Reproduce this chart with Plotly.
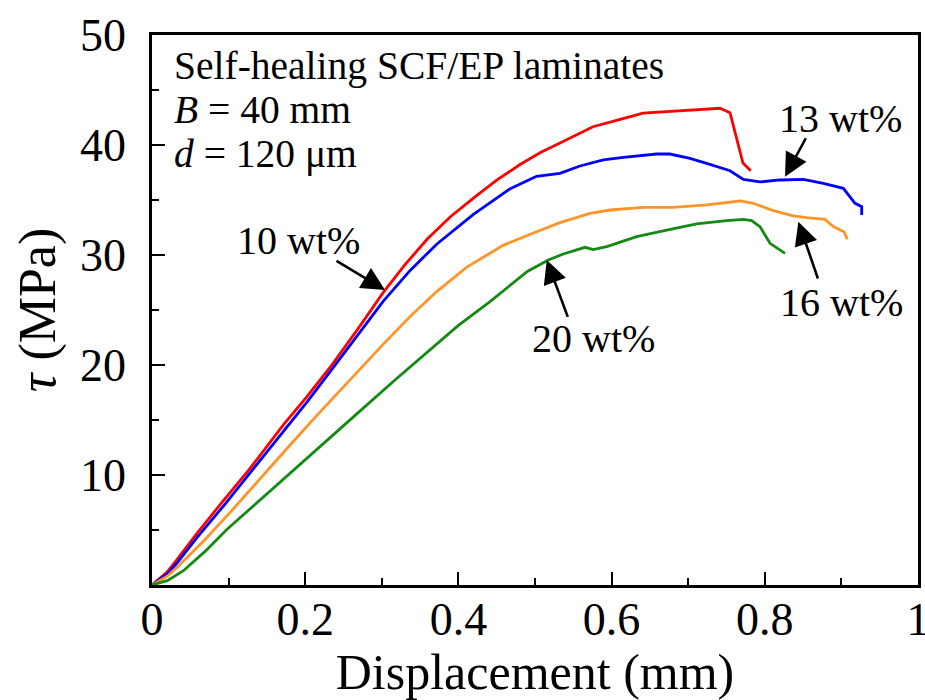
import plotly.graph_objects as go

# ---- data ----
x_10 = [0, 0.02, 0.0326, 0.0587, 0.0935, 0.128, 0.172, 0.202, 0.2326, 0.267, 0.302, 0.33, 0.36,
        0.39, 0.42, 0.45, 0.48, 0.5065, 0.5326, 0.5757, 0.61, 0.641, 0.672, 0.7415,
        0.7546, 0.7715, 0.7816]
y_10 = [0, 1.2, 2.3, 4.7, 7.7, 10.6, 14.6, 17.1, 19.8, 23.1, 26.6, 29.1, 31.5,
        33.5, 35.2, 36.8, 38.2, 39.3, 40.18, 41.66, 42.3, 42.9, 43.03, 43.34,
        42.94, 38.36, 37.66]

x_13 = [0, 0.02, 0.0326, 0.0587, 0.0935, 0.128, 0.172, 0.202, 0.2326, 0.267, 0.302, 0.337, 0.372,
        0.4196, 0.467, 0.502, 0.5326, 0.5587, 0.5892, 0.6153, 0.6588, 0.676, 0.7023, 0.7241,
        0.7546, 0.772, 0.7937, 0.8198, 0.8503, 0.8764, 0.9025, 0.9178, 0.9265, 0.9265]
y_13 = [0, 1.0, 2.0, 4.3, 7.2, 10.2, 14.1, 16.6, 19.4, 22.6, 25.8, 28.6, 31.0,
        33.7, 36.0, 37.15, 37.43, 38.09, 38.64, 38.88, 39.18, 39.18, 38.79, 38.33,
        37.66, 36.88, 36.64, 36.82, 36.88, 36.52, 36.06, 34.7, 34.39, 33.64]

x_16 = [0, 0.02, 0.0326, 0.0674, 0.102, 0.141, 0.180, 0.215, 0.259, 0.302, 0.337, 0.372, 0.411,
        0.459, 0.498, 0.5326, 0.5718, 0.5979, 0.6414, 0.6806, 0.7241, 0.7676, 0.785, 0.8111,
        0.8372, 0.8546, 0.8786, 0.8895, 0.9034, 0.9077]
y_16 = [0, 0.8, 1.6, 4.0, 6.6, 9.6, 12.7, 15.4, 18.7, 21.9, 24.4, 26.7, 28.9,
        30.9, 32.0, 32.94, 33.79, 34.09, 34.33, 34.33, 34.55, 34.91, 34.7, 34.03,
        33.55, 33.39, 33.24, 32.58, 32.12, 31.42]

x_20 = [0, 0.02, 0.041, 0.07, 0.097, 0.137, 0.178, 0.22, 0.26, 0.3172, 0.36, 0.4, 0.44,
        0.4674, 0.49, 0.5174, 0.537, 0.5653, 0.576, 0.5936, 0.6197, 0.6327, 0.672, 0.711,
        0.7502, 0.772, 0.7828, 0.7937, 0.8068, 0.8264]
y_20 = [0, 0.4, 1.3, 3.1, 5.0, 7.5, 10.0, 12.6, 15.1, 18.64, 21.2, 23.6, 25.7,
        27.27, 28.5, 29.55, 30.09, 30.7, 30.5, 30.76, 31.36, 31.67, 32.27, 32.82,
        33.12, 33.24, 33.12, 32.58, 31.06, 30.15]

series_names = ["10 wt%", "13 wt%", "16 wt%", "20 wt%"]
series_colors = ["#ff0000", "#0000ff", "#ff9428", "#138a13"]

# label positions (data coords) and arrow tail/tip
label_xy = [(0.191, 31.3), (0.8985, 42.4), (0.9, 25.7), (0.576, 22.4)]
arrow_tail = [(0.2389, 29.55), (0.8546, 40.75), (0.87, 27.73), (0.5435, 24.24)]
arrow_tip = [(0.3042, 26.82), (0.8264, 37.12), (0.8438, 33.03), (0.5153, 29.55)]

info_lines = ["Self-healing SCF/EP laminates", "<i>B</i> = 40 mm", "<i>d</i> = 120 μm"]
info_y = [47.2, 43.2, 39.2]

x_ticks = [0, 0.2, 0.4, 0.6, 0.8, 1]
y_ticks = [10, 20, 30, 40, 50]

FONT = "Liberation Serif, Times New Roman, serif"

fig = go.Figure()
for xs, ys, name, col in zip([x_10, x_13, x_16, x_20], [y_10, y_13, y_16, y_20],
                             series_names, series_colors):
    fig.add_trace(go.Scatter(x=xs, y=ys, mode="lines", name=name,
                             line=dict(color=col, width=2.8), showlegend=False))

annotations = []
for (lx, ly), name in zip(label_xy, series_names):
    annotations.append(dict(x=lx, y=ly, xref="x", yref="y", text=name, showarrow=False,
                            font=dict(family=FONT, size=40, color="black")))
for (tx, ty), (hx, hy) in zip(arrow_tail, arrow_tip):
    annotations.append(dict(x=hx, y=hy, ax=tx, ay=ty, xref="x", yref="y", axref="x", ayref="y",
                            text="", showarrow=True, arrowhead=2, arrowsize=1.8, arrowwidth=2.6,
                            arrowcolor="black"))
for txt, yy in zip(info_lines, info_y):
    annotations.append(dict(x=0.026, y=yy, xref="paper", yref="y", text=txt, showarrow=False,
                            xanchor="left", yanchor="middle",
                            font=dict(family=FONT, size=39.5, color="black")))

fig.update_layout(
    width=925, height=700,
    margin=dict(l=152, r=7, t=35, b=115),
    paper_bgcolor="white", plot_bgcolor="white",
    font=dict(family=FONT, color="black"),
    annotations=annotations,
)
fig.update_xaxes(
    range=[0, 1], tickvals=x_ticks, ticktext=[f"{v:g}" for v in x_ticks],
    automargin=False, ticklabeloverflow="allow",
    showgrid=False, zeroline=False,
    showline=True, mirror=True, linecolor="black", linewidth=2.5,
    ticks="inside", ticklen=13, tickwidth=2, tickcolor="black",
    minor=dict(dtick=0.1, ticks="inside", ticklen=7, tickwidth=2, tickcolor="black"),
    tickfont=dict(family=FONT, size=46, color="black"),
    ticklabelstandoff=-8,
    title=dict(text="Displacement (mm)", font=dict(family=FONT, size=50, color="black"), standoff=0),
)
fig.update_yaxes(
    range=[0, 50], tickvals=y_ticks, ticktext=[str(v) for v in y_ticks],
    automargin=False, ticklabeloverflow="allow",
    showgrid=False, zeroline=False,
    showline=True, mirror=True, linecolor="black", linewidth=2.5,
    ticks="inside", ticklen=13, tickwidth=2, tickcolor="black",
    minor=dict(tickvals=[5, 15, 25, 35, 45], ticks="inside", ticklen=7, tickwidth=2, tickcolor="black"),
    tickfont=dict(family=FONT, size=46, color="black"),
    ticklabelstandoff=14,
    title=dict(text="<i>τ</i> (MPa)", font=dict(family=FONT, size=52, color="black"), standoff=8),
)

fig.write_html("out.html", config={"displayModeBar": False},
               post_script="document.body.style.margin='0';document.body.style.overflow='hidden';")
